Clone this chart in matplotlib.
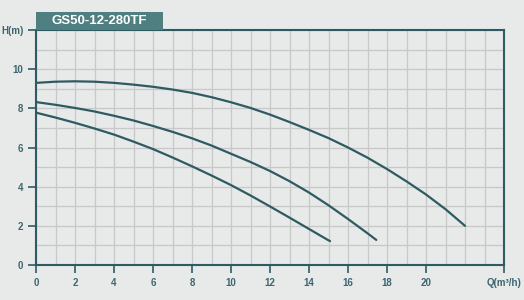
import matplotlib.pyplot as plt
from matplotlib.patches import Rectangle
from matplotlib.ticker import MultipleLocator

plt.rcParams['font.family'] = ['Liberation Sans', 'DejaVu Sans']

title = 'GS50-12-280TF'

# curve readings, Q (m3/h) vs H (m)
q_top = [0, 1, 2, 3, 4, 5, 6, 7, 8, 9, 10, 11, 12, 13, 14, 15, 16, 17, 18, 19, 20, 21, 22]
h_top = [9.30, 9.36, 9.38, 9.36, 9.30, 9.21, 9.10, 8.96, 8.79, 8.57, 8.31, 8.02,
         7.68, 7.30, 6.90, 6.48, 6.00, 5.48, 4.90, 4.27, 3.60, 2.85, 2.00]

q_mid = [0, 1, 2, 3, 4, 5, 6, 7, 8, 9, 10, 11, 12, 13, 14, 15, 16, 17, 17.45]
h_mid = [8.32, 8.18, 8.02, 7.84, 7.62, 7.38, 7.10, 6.80, 6.47, 6.10, 5.68, 5.26,
         4.80, 4.28, 3.70, 3.05, 2.35, 1.62, 1.28]

q_low = [0, 1, 2, 3, 4, 5, 6, 7, 8, 9, 10, 11, 12, 13, 14, 15, 15.08]
h_low = [7.78, 7.53, 7.26, 6.97, 6.66, 6.30, 5.92, 5.49, 5.04, 4.57, 4.08, 3.55,
         2.99, 2.42, 1.84, 1.26, 1.22]

x_ticks = [0, 2, 4, 6, 8, 10, 12, 14, 16, 18, 20, 24]
x_labels = ['0', '2', '4', '6', '8', '10', '12', '14', '16', '18', '20', 'Q(m³/h)']
y_ticks = [0, 2, 4, 6, 8, 10, 12]
y_labels = ['0', '2', '4', '6', '8', '10', 'H(m)']

bg = '#e8e9e9'
teal = '#2e5b61'
label_col = '#3c6670'

fig = plt.figure(figsize=(5.24, 3.0), dpi=100, facecolor=bg)
ax = fig.add_axes([36 / 524, 35 / 300, 468 / 524, 235 / 300])
ax.set_facecolor(bg)

ax.set_xlim(0, 24)
ax.set_ylim(0, 12)
ax.xaxis.set_minor_locator(MultipleLocator(1))
ax.yaxis.set_minor_locator(MultipleLocator(1))
ax.grid(which='both', color='#c8c8c8', linewidth=0.9)
ax.set_axisbelow(True)

for q, h in [(q_top, h_top), (q_mid, h_mid), (q_low, h_low)]:
    ax.plot(q, h, color=teal, linewidth=1.6, solid_capstyle='round')

ax.set_xticks(x_ticks)
ax.set_xticklabels(x_labels)
ax.set_yticks(y_ticks)
ax.set_yticklabels(y_labels)
ax.tick_params(which='major', length=6, width=1.2, color=teal, labelcolor=label_col,
               labelsize=7, pad=3)
ax.tick_params(which='minor', length=0)
for lbl in ax.get_xticklabels() + ax.get_yticklabels():
    lbl.set_fontweight('bold')

for s in ax.spines.values():
    s.set_color(teal)
    s.set_linewidth(1.5)

fig.patches.append(Rectangle((36 / 524, 270 / 300), 127 / 524, 18 / 300,
                             transform=fig.transFigure, facecolor='#4f7f81',
                             edgecolor='none'))
fig.text(99.5 / 524, 279 / 300, title, color='white', fontsize=9.5,
         fontweight='bold', ha='center', va='center')

fig.savefig('out.png', dpi=100, facecolor=bg)
